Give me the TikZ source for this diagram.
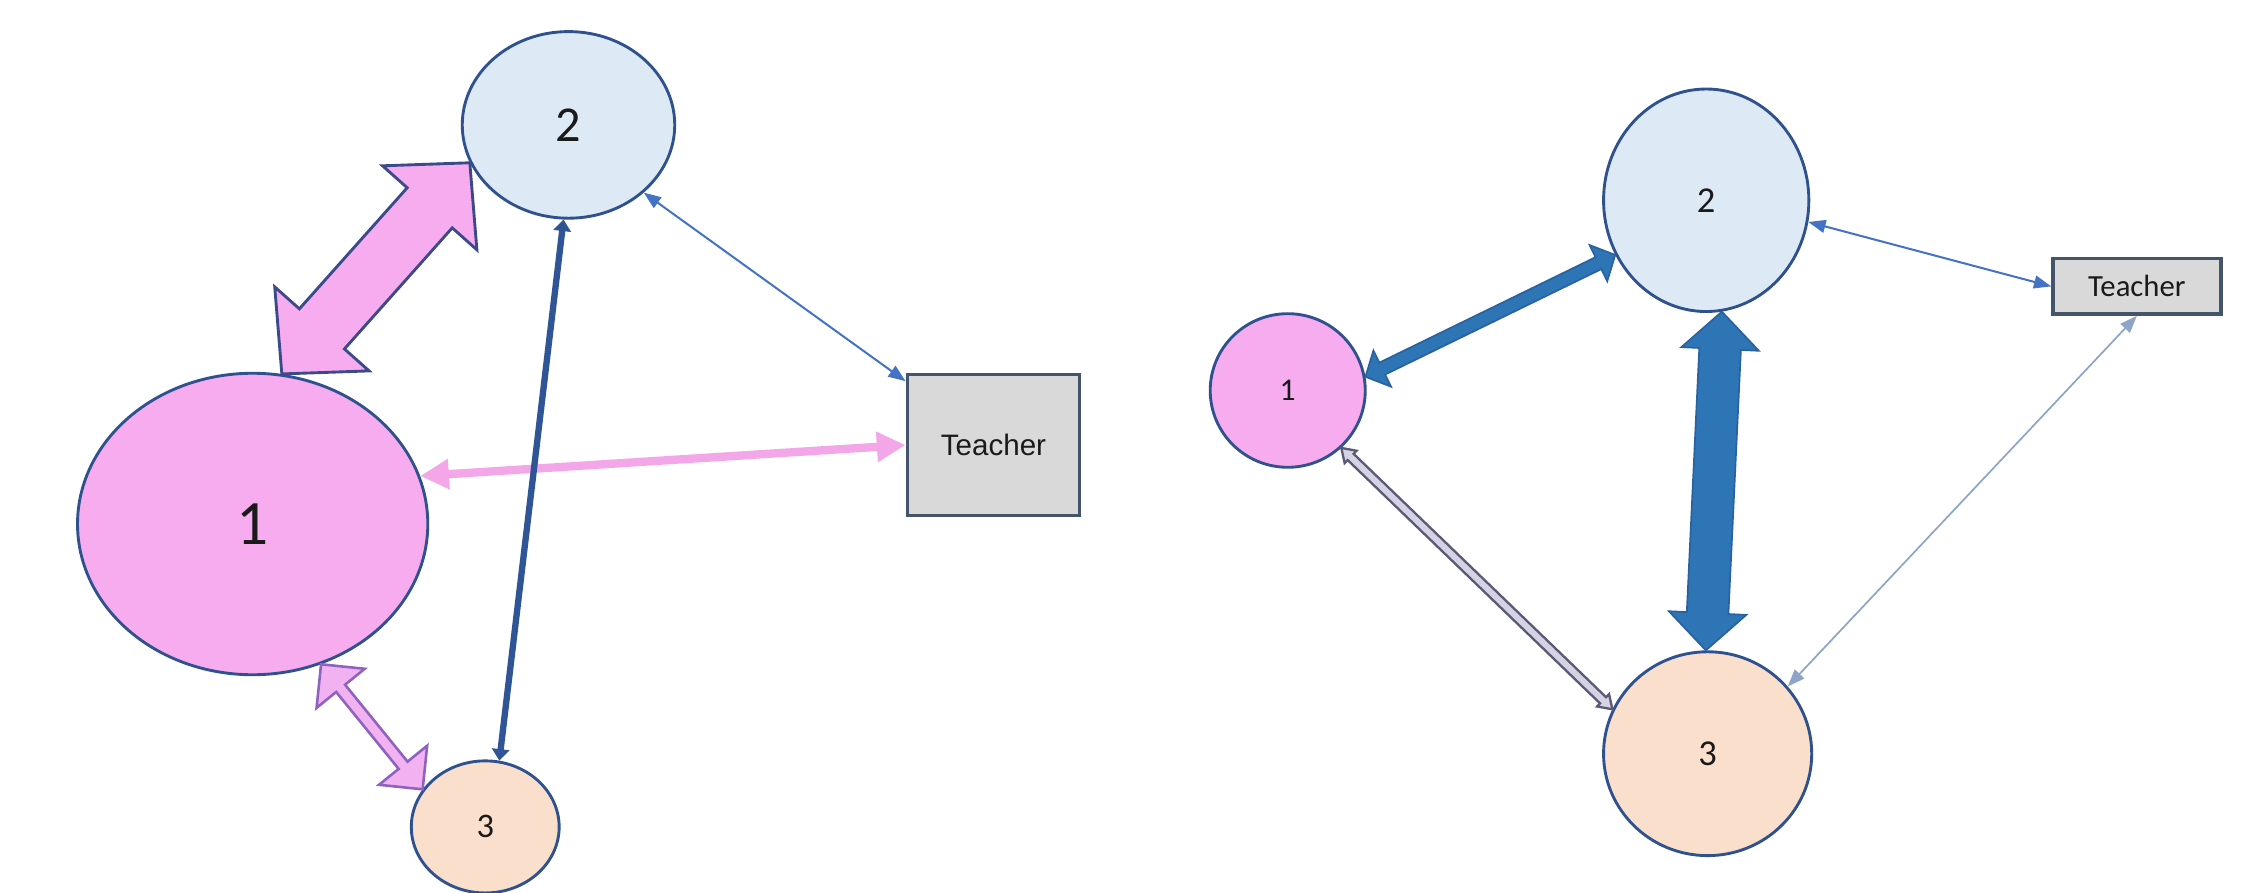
\documentclass[tikz,border=0pt]{standalone}
\usepackage{fontspec}
\setmainfont{Carlito}
\newfontfamily\arialf{Liberation Sans}
\usetikzlibrary{arrows.meta,calc,shapes.geometric}
\definecolor{pinkf}{HTML}{F7ACEF}
\definecolor{nodeline}{HTML}{2F528F}
\definecolor{lblue}{HTML}{DDEAF6}
\definecolor{peach}{HTML}{FAE0CC}
\definecolor{boxfill}{HTML}{D9D9D9}
\definecolor{boxline}{HTML}{44546A}
\definecolor{bigout}{HTML}{3D4A8A}
\definecolor{smallout}{HTML}{8E62BE}
\definecolor{smallfill}{HTML}{F2B2F2}
\definecolor{navy}{HTML}{2F5597}
\definecolor{thinblue}{HTML}{4472C4}
\definecolor{pinkline}{HTML}{F4A7E8}
\definecolor{rblue}{HTML}{2E75B6}
\definecolor{rblueout}{HTML}{2A62A0}
\definecolor{greyfill}{HTML}{D5D3E3}
\definecolor{greyout}{HTML}{5A5A78}
\definecolor{paleblue}{HTML}{8FA5C8}
\definecolor{txt}{HTML}{1A1A1A}
% block double arrow: style, A, B, shaft half width, head half width, head length
\newcommand\dblarrow[6]{%
  \coordinate (da) at ($(#2)!#6!(#3)$);
  \coordinate (db) at ($(#3)!#6!(#2)$);
  \path[#1] (#2) -- ($(da)!#5!90:(#3)$) -- ($(da)!#4!90:(#3)$)
    -- ($(db)!#4!-90:(#2)$) -- ($(db)!#5!-90:(#2)$) -- (#3)
    -- ($(db)!#5!90:(#2)$) -- ($(db)!#4!90:(#2)$)
    -- ($(da)!#4!-90:(#3)$) -- ($(da)!#5!-90:(#3)$) -- cycle;
}
\tikzset{
  circ/.style={ellipse, draw=nodeline, line width=1pt, inner sep=0pt, text=txt},
  tbox/.style={rectangle, draw=boxline, line width=1.2pt, fill=boxfill, inner sep=0pt, text=txt},
  fs/.style={font=\fontsize{#1}{#1}\selectfont},
}
\begin{document}
\begin{tikzpicture}[x=0.5pt,y=-0.5pt]
\useasboundingbox (0,0) rectangle (1568,622);
\fill[white] (0,0) rectangle (1568,622);
% ---------- left diagram ----------
\node[circ, fill=pinkf, minimum width=122pt, minimum height=105pt, fs=22] (L1) at (176,365) {1};
\node[circ, fill=lblue, minimum width=74pt, minimum height=65pt, fs=17.5] (L2) at (396,87) {2};
\node[circ, fill=peach, minimum width=51.5pt, minimum height=46pt, fs=12] (L3) at (338,576) {3};
\node[tbox, minimum width=60pt, minimum height=49pt, font=\arialf\fontsize{10.3}{11}\selectfont] (LT) at (692,310) {Teacher};
\dblarrow{fill=pinkf, draw=bigout, line width=1pt, line join=miter}{L1.79}{L2.201}{10.5pt}{22pt}{21pt}
\dblarrow{fill=smallfill, draw=smallout, line width=0.9pt, line join=miter}{L1.296}{L3.149}{2pt}{10.8pt}{10.8pt}
\draw[pinkline, line width=2.9pt, {Triangle[length=10pt,width=10pt]}-{Triangle[length=10pt,width=10pt]}] (L1.16) -- (LT.west);
\draw[navy, line width=2.2pt, {Triangle[length=4pt,width=6pt]}-{Triangle[length=4pt,width=6pt]}] (L2.267) -- (L3.78);
\draw[thinblue, line width=0.7pt, {Triangle[length=6pt,width=4.5pt]}-{Triangle[length=6pt,width=4.5pt]}] (L2.318) -- (LT.144);
% ---------- right diagram ----------
\node[circ, fill=lblue, minimum width=71.5pt, minimum height=77.5pt, fs=12.7] (R2) at (1188.5,139.5) {2};
\node[circ, fill=pinkf, minimum width=54pt, minimum height=53.5pt, fs=11] (R1) at (897,272) {1};
\node[circ, fill=peach, minimum width=72.5pt, minimum height=71pt, fs=12.7] (R3) at (1189.5,525) {3};
\node[tbox, minimum width=58.5pt, minimum height=19.3pt, fs=10.7] (RT) at (1488.5,199.5) {Teacher};
\dblarrow{fill=rblue, draw=rblueout, line width=0.6pt, line join=miter}{R1.10}{R2.211}{2.3pt}{7pt}{6.5pt}
\dblarrow{fill=rblue, draw=rblueout, line width=0.6pt, line join=miter}{R2.278}{R3.91}{7.25pt}{13.5pt}{13pt}
\dblarrow{fill=greyfill, draw=greyout, line width=0.8pt, line join=miter}{R1.313}{R3.155}{1.5pt}{3pt}{4.5pt}
\draw[thinblue, line width=0.7pt, {Triangle[length=6pt,width=4.5pt]}-{Triangle[length=6pt,width=4.5pt]}] (R2.348) -- (RT.west);
\draw[paleblue, line width=0.6pt, {Triangle[length=6pt,width=4.5pt]}-{Triangle[length=6pt,width=4.5pt]}] (RT.south) -- (R3.40);
\end{tikzpicture}
\end{document}
